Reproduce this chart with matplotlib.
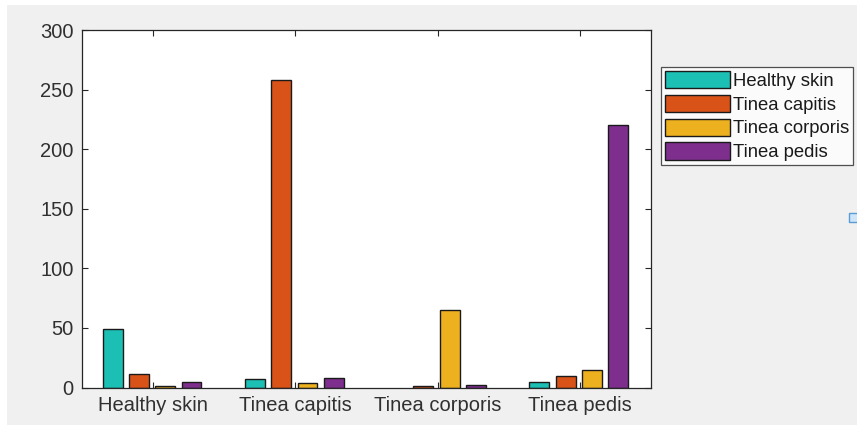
import numpy as np
import matplotlib
matplotlib.use("Agg")
import matplotlib.pyplot as plt
from matplotlib.patches import Rectangle

plt.rcParams['font.family'] = ['Liberation Sans', 'DejaVu Sans']

# data (one list per series, across the categories)
categories = ['Healthy skin', 'Tinea capitis', 'Tinea corporis', 'Tinea pedis']
series_names = ['Healthy skin', 'Tinea capitis', 'Tinea corporis', 'Tinea pedis']
s_healthy = [49, 7, 0, 5]
s_capitis = [11, 258, 1, 10]
s_corporis = [1, 4, 65, 15]
s_pedis = [5, 8, 2, 220]
series = [s_healthy, s_capitis, s_corporis, s_pedis]
colors = ['#1cbfb3', '#d95319', '#edb120', '#7e2f8e']
yticks = [0, 50, 100, 150, 200, 250, 300]

fig = plt.figure(figsize=(8.57, 4.25), dpi=100)
fig.patch.set_facecolor('white')
# gray MATLAB-style window background
fig.patches.append(Rectangle((7 / 857, 0), 1, 1 - 5 / 425, transform=fig.transFigure,
                             facecolor='#f0f0f0', edgecolor='none', zorder=-10))
fig.patches.append(Rectangle((849 / 857, 1 - 222 / 425), 10 / 857, 9 / 425,
                             transform=fig.transFigure, facecolor='#cfe6fa',
                             edgecolor='#5b9bd5', lw=1, zorder=-5))

ax = fig.add_axes([82 / 857, 1 - 387.5 / 425, 569 / 857, 357.5 / 425])
x = np.arange(1, len(categories) + 1)
width = 0.14
offsets = [-0.285, -0.1, 0.085, 0.27]
for vals, name, c, off in zip(series, series_names, colors, offsets):
    bars = ax.bar(x + off, vals, width, color=c, edgecolor='#1a1a1a', lw=1.0, label=name)
    for b in bars:
        if b.get_height() == 0:
            b.set_visible(False)

ax.set_xlim(0.5, 4.5)
ax.set_ylim(0, 300)
ax.set_xticks(x)
ax.set_xticklabels(categories)
ax.set_yticks(yticks)
ax.tick_params(direction='in', top=True, right=True, length=4, width=0.8,
               colors='#262626', labelsize=14.5, pad=6)
for lab in ax.get_xticklabels() + ax.get_yticklabels():
    lab.set_color('#303030')
for sp in ax.spines.values():
    sp.set_color('#262626')
    sp.set_linewidth(0.9)

leg = ax.legend(loc='upper left', bbox_to_anchor=(1.018, 0.897), fontsize=13.3,
                frameon=True, fancybox=False, edgecolor='#262626',
                handlelength=3.5, handleheight=1.05, handletextpad=0.15,
                labelspacing=0.27, borderpad=0.22, borderaxespad=0)
leg.get_frame().set_linewidth(0.9)
leg.get_frame().set_facecolor('white')
for t in leg.get_texts():
    t.set_color('#1a1a1a')

fig.savefig('out.png', dpi=100, facecolor=fig.get_facecolor())
